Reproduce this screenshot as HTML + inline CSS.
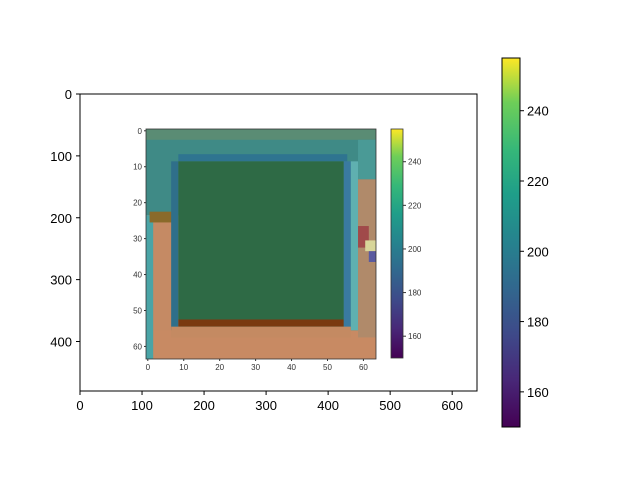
<!DOCTYPE html>
<html><head><meta charset="utf-8"><style>
body{margin:0;background:#fff;}
svg{display:block;font-family:"Liberation Sans",sans-serif;}
</style></head><body>
<svg width="640" height="480" viewBox="0 0 640 480">
<defs>
<linearGradient id="vir" x1="0" y1="1" x2="0" y2="0">
<stop offset="0" stop-color="#440154"/><stop offset="0.13" stop-color="#482878"/>
<stop offset="0.25" stop-color="#3e4989"/><stop offset="0.38" stop-color="#31688e"/>
<stop offset="0.5" stop-color="#26828e"/><stop offset="0.63" stop-color="#1f9e89"/>
<stop offset="0.75" stop-color="#35b779"/><stop offset="0.88" stop-color="#6ece58"/>
<stop offset="1" stop-color="#fde725"/></linearGradient>
</defs>
<g id="outer"></g>
<g id="inner"></g>
<g id="cb"></g>
</svg>
<script>
const NS="http://www.w3.org/2000/svg";
const outerXTicks=[0,100,200,300,400,500,600];
const outerYTicks=[0,100,200,300,400];
const innerTicks=[0,10,20,30,40,50,60];
const cbTicks=[160,180,200,220,240];
const cbRange=[150,255];
// image regions [col0,row0,col1,row1,color]
const regions=[
[0,0,64,64,"#3f8a86"],
[0,0,64,3,"#5a8c74"],
[0,24,9,64,"#c58a64"],
[0,56,64,64,"#c88a63"],
[0,24,2,64,"#4aa4a6"],
[1,23,8,26,"#8a6a2a"],
[9,7,56,9,"#2f7490"],
[7,9,9,56,"#2f6f8a"],
[55,9,57,56,"#3a7aa0"],
[57,9,59,56,"#5fb0b0"],
[59,3,64,14,"#4a9a96"],
[59,14,64,58,"#b08a6a"],
[59,27,62,33,"#a04a4a"],
[61,31,64,34,"#d8d69a"],
[62,34,64,37,"#5a5aa0"],
[9,9,55,53,"#2e6a45"],
[9,53,55,55,"#7a3a10"],
[7,55,57,58,"#c48a62"]
];
function el(t,a,p,txt){const e=document.createElementNS(NS,t);for(const k in a)e.setAttribute(k,a[k]);if(txt!==undefined)e.textContent=txt;p.appendChild(e);return e;}
const ox=v=>80+v*397/640, oy=v=>94+v*297/480;
const O=document.getElementById('outer');
el('rect',{x:80,y:94,width:397,height:297,fill:'none',stroke:'#000','stroke-width':1},O);
outerXTicks.forEach(v=>{el('line',{x1:ox(v),x2:ox(v),y1:391,y2:395,stroke:'#000'},O);
 const t=el('text',{x:ox(v),y:410,'font-size':13,'text-anchor':'middle'},O,String(v));
 
 });
outerYTicks.forEach(v=>{el('line',{x1:76,x2:80,y1:oy(v),y2:oy(v),stroke:'#000'},O);
 const t=el('text',{x:72,y:oy(v)+5,'font-size':13,'text-anchor':'end'},O,String(v));
 
 });
const I=document.getElementById('inner');
const ps=230/64, ix=c=>146+c*ps, iy=r=>129+r*ps;
regions.forEach(g=>{const r=el('rect',{x:ix(g[0]),y:iy(g[1]),width:(g[2]-g[0])*ps,height:(g[3]-g[1])*ps,fill:g[4]},I);
 
 });
el('rect',{x:146,y:129,width:230,height:230,fill:'none',stroke:'#333','stroke-width':0.8},I);
innerTicks.forEach(v=>{const p=ix(v+0.5);
 el('line',{x1:p,x2:p,y1:359,y2:361,stroke:'#333'},I);
 el('text',{x:p,y:370,'font-size':8,'text-anchor':'middle',fill:'#333'},I,String(v));
 const q=iy(v+0.5);
 el('line',{x1:144,x2:146,y1:q,y2:q,stroke:'#333'},I);
 el('text',{x:142,y:q+3,'font-size':8,'text-anchor':'end',fill:'#333'},I,String(v));});
el('rect',{x:391,y:129,width:12,height:229,fill:'url(#vir)',stroke:'#333','stroke-width':0.8},I);
const icy=v=>358-(v-cbRange[0])/(cbRange[1]-cbRange[0])*229;
cbTicks.forEach(v=>{el('line',{x1:403,x2:406,y1:icy(v),y2:icy(v),stroke:'#333'},I);
 el('text',{x:408,y:icy(v)+3,'font-size':8,fill:'#333'},I,String(v));});
const C=document.getElementById('cb');
const cy=v=>427-(v-cbRange[0])/(cbRange[1]-cbRange[0])*369;
el('rect',{x:502,y:58,width:18,height:369,fill:'url(#vir)',stroke:'#000','stroke-width':1},C);
cbTicks.forEach(v=>{el('line',{x1:520,x2:524,y1:cy(v),y2:cy(v),stroke:'#000'},C);
 const t=el('text',{x:527,y:cy(v)+5,'font-size':13},C,String(v));
 
 });
</script>
</body></html>
